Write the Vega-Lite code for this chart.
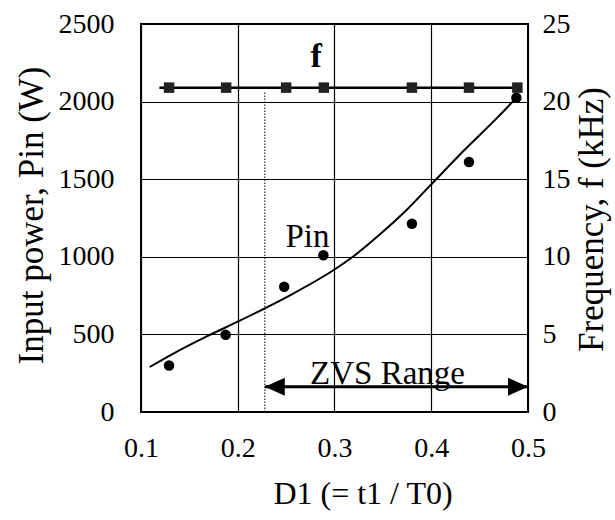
{
  "$schema": "https://vega.github.io/schema/vega-lite/v6.json",
  "width": 387,
  "height": 388,
  "autosize": {"type": "none"},
  "padding": {"left": 141, "top": 24, "right": 87, "bottom": 108},
  "background": "white",
  "config": {
    "font": "Liberation Serif",
    "view": {"stroke": "black", "strokeWidth": 2},
    "axis": {"labelFont": "Liberation Serif", "titleFont": "Liberation Serif", "labelColor": "black", "titleColor": "black", "titleFontWeight": "normal", "gridColor": "black", "gridWidth": 1.2, "gridOpacity": 1, "domain": false, "ticks": false, "tickSize": 0, "labelFontSize": 28}
  },
  "datasets": {
    "fit": [
      {"D": 0.109, "P": 290}, {"D": 0.133, "P": 375}, {"D": 0.168, "P": 487}, {"D": 0.201, "P": 585},
      {"D": 0.228, "P": 668}, {"D": 0.254, "P": 752}, {"D": 0.300, "P": 918}, {"D": 0.320, "P": 1005},
      {"D": 0.347, "P": 1145}, {"D": 0.375, "P": 1305}, {"D": 0.399, "P": 1460}, {"D": 0.433, "P": 1680},
      {"D": 0.468, "P": 1895}, {"D": 0.488, "P": 2025}
    ],
    "pin": [
      {"D": 0.129, "P": 300}, {"D": 0.1875, "P": 497}, {"D": 0.248, "P": 807}, {"D": 0.2885, "P": 1010},
      {"D": 0.380, "P": 1213}, {"D": 0.439, "P": 1611}, {"D": 0.488, "P": 2025}
    ],
    "freq": [
      {"D": 0.129, "f": 20.9}, {"D": 0.188, "f": 20.9}, {"D": 0.250, "f": 20.9}, {"D": 0.289, "f": 20.9},
      {"D": 0.380, "f": 20.9}, {"D": 0.439, "f": 20.9}, {"D": 0.489, "f": 20.9}
    ],
    "fline": [{"D": 0.119, "f": 20.9}, {"D": 0.490, "f": 20.9}],
    "zvsRule": [{"D": 0.228, "P": 0, "P2": 2060}],
    "zvs": [{"D": 0.228, "P": 163}, {"D": 0.5, "P": 163}],
    "labels": [{"D": 0.272, "P": 1065, "label": "Pin"}, {"D": 0.3548, "P": 180, "label": "ZVS Range"}],
    "flabel": [{"D": 0.281, "P": 2225, "label": "f"}]
  },
  "encoding": {
    "x": {
      "field": "D", "type": "quantitative",
      "scale": {"domain": [0.1, 0.5], "nice": false, "zero": false},
      "axis": {
        "values": [0.1, 0.2, 0.3, 0.4, 0.5], "format": ".1f", "grid": true, "labelPadding": 22, "labelFlush": false,
        "title": "D1 (= t1 / T0)", "titleFontSize": 32, "titleX": 221.5, "titleY": 91, "titleBaseline": "alphabetic", "titleAlign": "center"
      }
    }
  },
  "layer": [
    {
      "encoding": {
        "y": {
          "field": "P", "type": "quantitative",
          "scale": {"domain": [0, 2500], "nice": false},
          "axis": {
            "values": [0, 500, 1000, 1500, 2000, 2500], "format": "d", "grid": true, "labelPadding": 27,
            "title": "Input power, Pin (W)", "titleFontSize": 35, "titleAngle": 270, "titleX": -99, "titleY": 191,
            "titleBaseline": "alphabetic", "titleAlign": "center"
          }
        }
      },
      "layer": [
        {"data": {"name": "fit"}, "mark": {"type": "line", "color": "black", "strokeWidth": 2, "interpolate": "monotone"}},
        {"data": {"name": "pin"}, "mark": {"type": "point", "shape": "circle", "filled": true, "color": "black", "size": 110, "opacity": 1}},
        {"data": {"name": "zvsRule"}, "mark": {"type": "rule", "color": "black", "strokeDash": [1.5, 1.5], "strokeWidth": 1}, "encoding": {"y2": {"field": "P2"}}},
        {"data": {"name": "zvs"}, "mark": {"type": "line", "color": "black", "strokeWidth": 3}},
        {"data": {"name": "zvs"}, "transform": [{"filter": "datum.D < 0.3"}], "mark": {"type": "point", "shape": "M0,0L2,-0.9L2,0.9Z", "filled": true, "color": "black", "size": 400, "opacity": 1}},
        {"data": {"name": "zvs"}, "transform": [{"filter": "datum.D > 0.3"}], "mark": {"type": "point", "shape": "M0,0L-2,-0.9L-2,0.9Z", "filled": true, "color": "black", "size": 400, "opacity": 1}},
        {"data": {"name": "labels"}, "mark": {"type": "text", "font": "Liberation Serif", "fontSize": 33, "baseline": "alphabetic", "align": "center", "color": "black"}, "encoding": {"text": {"field": "label"}}},
        {"data": {"name": "flabel"}, "mark": {"type": "text", "font": "Liberation Serif", "fontSize": 34, "fontWeight": "bold", "baseline": "alphabetic", "align": "center", "color": "black"}, "encoding": {"text": {"field": "label"}}}
      ]
    },
    {
      "encoding": {
        "y": {
          "field": "f", "type": "quantitative",
          "scale": {"domain": [0, 25], "nice": false},
          "axis": {
            "orient": "right", "values": [0, 5, 10, 15, 20, 25], "format": "d", "grid": false, "labelPadding": 14,
            "title": "Frequency, f (kHz)", "titleFontSize": 35, "titleAngle": 270, "titleX": 74, "titleY": 195,
            "titleBaseline": "alphabetic", "titleAlign": "center"
          }
        }
      },
      "layer": [
        {"data": {"name": "fline"}, "mark": {"type": "line", "color": "black", "strokeWidth": 2.5}},
        {"data": {"name": "freq"}, "mark": {"type": "point", "shape": "square", "filled": true, "color": "#222222", "size": 110, "opacity": 1}}
      ]
    }
  ],
  "resolve": {"scale": {"y": "independent"}}
}
